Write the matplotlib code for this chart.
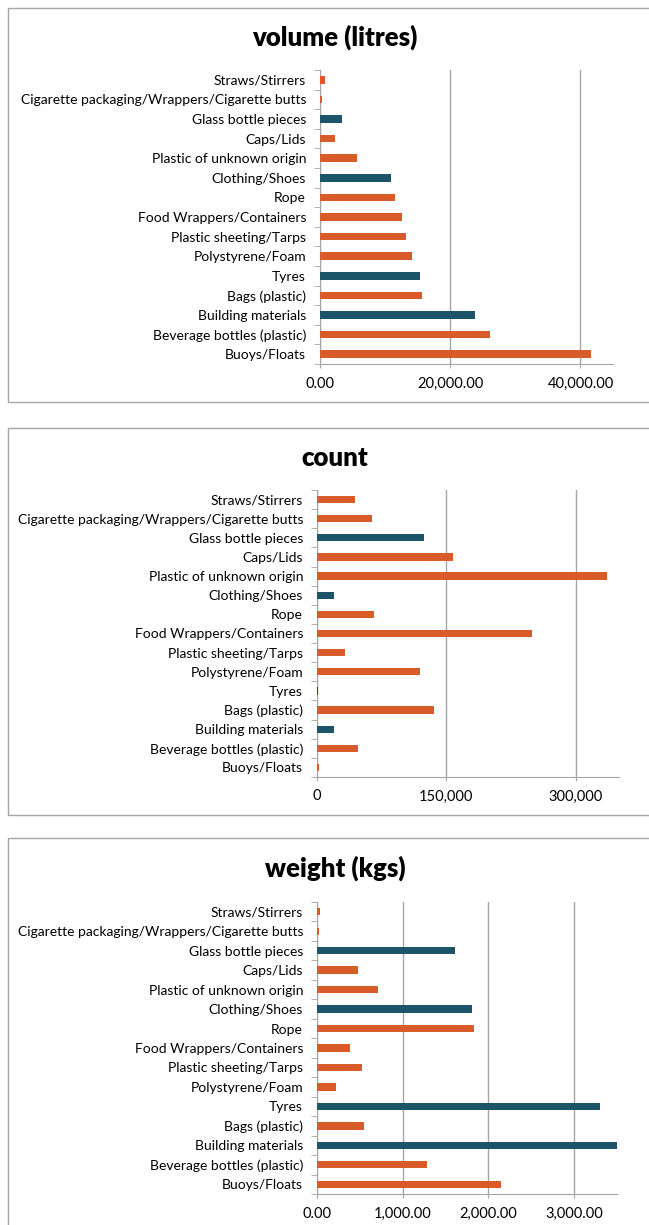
import numpy as np
import matplotlib.pyplot as plt
from matplotlib.patches import Rectangle
from matplotlib.ticker import FuncFormatter

plt.rcParams['font.family'] = ['Lato', 'DejaVu Sans']

# categorias (de abajo hacia arriba)
categorias = ["Buoys/Floats", "Beverage bottles (plastic)", "Building materials",
              "Bags (plastic)", "Tyres", "Polystyrene/Foam", "Plastic sheeting/Tarps",
              "Food Wrappers/Containers", "Rope", "Clothing/Shoes",
              "Plastic of unknown origin", "Caps/Lids", "Glass bottle pieces",
              "Cigarette packaging/Wrappers/Cigarette butts", "Straws/Stirrers"]
no_plastico = ["Building materials", "Tyres", "Clothing/Shoes", "Glass bottle pieces"]

volumen = [41630, 26170, 23880, 15610, 15310, 14080, 13160, 12550, 11480, 10870,
           5660, 2300, 3370, 310, 770]
conteo = [2700, 47000, 19300, 136100, 800, 118800, 32000, 249500, 65500, 19300,
          336300, 158100, 124500, 63200, 44300]
peso = [2152, 1288, 3520, 553, 3307, 226, 529, 389, 1837, 1813,
        716, 482, 1615, 23, 39]

naranja = '#D95B2A'
azul = '#1E5469'
gris = '#A6A6A6'
colores = [azul if c in no_plastico else naranja for c in categorias]

W, H = 649, 1225
fig = plt.figure(figsize=(W / 100, H / 100), dpi=100)

# (titulo, datos, xmax, paso, formato, marco y0, marco y1, titulo y, ejes x0, x1, y0, y1)
paneles = [
    ("volume (litres)", volumen, 45000, 20000, '{:,.2f}', 8, 402, 37, 320, 613, 70, 364),
    ("count", conteo, 350000, 150000, '{:,.0f}', 428, 815, 458, 317, 619, 490, 777),
    ("weight (kgs)", peso, 3500, 1000, '{:,.2f}', 838, 1240, 868, 317, 617, 902, 1194),
]

for titulo, datos, xmax, paso, fmt, by0, by1, ty, ax0, ax1, ay0, ay1 in paneles:
    # marco del grafico
    fig.patches.append(Rectangle((8 / W, 1 - by1 / H), 700 / W, (by1 - by0) / H,
                                 transform=fig.transFigure, fill=False,
                                 edgecolor=gris, lw=1))
    fig.text(335 / W, 1 - ty / H, titulo, ha='center', va='center',
             fontsize=18.5, fontweight='heavy')

    ax = fig.add_axes([ax0 / W, 1 - ay1 / H, (ax1 - ax0) / W, (ay1 - ay0) / H])
    y = np.arange(len(categorias))
    ax.barh(y, datos, height=0.38, color=colores, zorder=3)
    ax.set_xlim(0, xmax)
    ax.set_ylim(-0.5, len(categorias) - 0.5)
    ax.set_yticks(y)
    ax.set_yticklabels(categorias, fontsize=10)
    ax.set_yticks(np.arange(-0.5, len(categorias), 1), minor=True)
    ax.tick_params(axis='y', which='major', length=0, pad=10)
    ax.tick_params(axis='y', which='minor', length=4, color=gris)
    ax.set_xticks(np.arange(0, xmax + 1, paso))
    ax.xaxis.set_major_formatter(FuncFormatter(lambda v, p, f=fmt: f.format(v)))
    ax.tick_params(axis='x', length=3, color=gris, labelsize=10.5, pad=6)
    ax.grid(axis='x', color=gris, lw=1, zorder=0)
    for lado in ['top', 'right']:
        ax.spines[lado].set_visible(False)
    ax.spines['left'].set_color(gris)
    ax.spines['bottom'].set_color(gris)

plt.savefig('out.png', dpi=100)
